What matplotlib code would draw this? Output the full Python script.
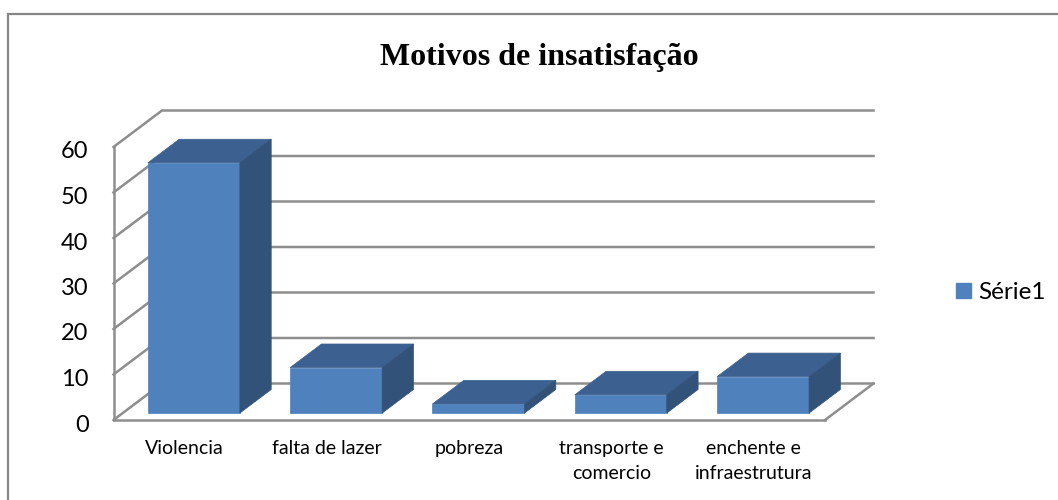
import matplotlib
matplotlib.use("Agg")
import matplotlib.pyplot as plt
from matplotlib.patches import Patch
from matplotlib.transforms import ScaledTranslation

categorias = ["Violencia", "falta de lazer", "pobreza", "transporte e\ncomercio", "enchente e\ninfraestrutura"]
valores = [55, 10, 2, 4, 8]
ticks_y = [0, 10, 20, 30, 40, 50, 60]
serie = "Série1"
titulo = "Motivos de insatisfação"

COR_FRENTE = "#4f81bd"
COR_TOPO = "#3c6190"
COR_LADO = "#325279"
COR_GRADE = "#8e8e8e"

plt.rcParams["font.family"] = ["Lato", "DejaVu Sans"]

W, H = 1058, 500
fig = plt.figure(figsize=(W / 100, H / 100), dpi=100)
# eixo ocupa o plano da frente, o fundo sai por deslocamento
ax = fig.add_axes([113.5 / W, (H - 420) / H, 711.5 / W, 273 / H])
ax.set_xlim(-0.5, 4.5)
ax.set_ylim(0, 60)

# profundidade total em unidades de dados
PROF_X = 48.5 / 142.3
PROF_Y = 36.5 / 4.55
D_BARRA_0 = 0.19
D_BARRA_1 = 0.836
LARGURA = 92 / 142.3


def proj(x, y, d):
    return x + d * PROF_X, y + d * PROF_Y


def poligono(pontos, cor):
    xs = [p[0] for p in pontos]
    ys = [p[1] for p in pontos]
    ax.fill(xs, ys, facecolor=cor, edgecolor=cor, linewidth=0.5, clip_on=False, zorder=3)


# grade das paredes
for t in ticks_y:
    x0, y0 = proj(-0.5, t, 0)
    x1, y1 = proj(-0.5, t, 1)
    x2, y2 = proj(4.5, t, 1)
    ax.plot([x0, x1, x2], [y0, y1, y2], color=COR_GRADE, lw=1.8, clip_on=False, zorder=1,
            solid_joinstyle="miter")
# lado direito do piso
x0, y0 = proj(4.5, 0, 0)
x1, y1 = proj(4.5, 0, 1)
ax.plot([x0, x1], [y0, y1], color=COR_GRADE, lw=1.8, clip_on=False, zorder=1)

# barras
for i, v in enumerate(valores):
    e = i - LARGURA / 2
    d = i + LARGURA / 2
    poligono([proj(e, 0, D_BARRA_0), proj(d, 0, D_BARRA_0), proj(d, v, D_BARRA_0), proj(e, v, D_BARRA_0)], COR_FRENTE)
    poligono([proj(e, v, D_BARRA_0), proj(d, v, D_BARRA_0), proj(d, v, D_BARRA_1), proj(e, v, D_BARRA_1)], COR_TOPO)
    poligono([proj(d, 0, D_BARRA_0), proj(d, 0, D_BARRA_1), proj(d, v, D_BARRA_1), proj(d, v, D_BARRA_0)], COR_LADO)

ax.set_xticks(range(len(categorias)))
ax.set_xticklabels(categorias, fontsize=14, color="black", linespacing=1.55)
ax.set_yticks(ticks_y)
ax.tick_params(axis="y", length=0, pad=18, labelsize=17)
ax.tick_params(axis="x", length=0, pad=14.5)
# numeros do eixo y ficam um pouco abaixo da grade
desce = ScaledTranslation(0, -3 / 100, fig.dpi_scale_trans)
for rotulo in ax.get_yticklabels():
    rotulo.set_transform(rotulo.get_transform() + desce)
for lado in ["top", "right"]:
    ax.spines[lado].set_visible(False)
for lado in ["left", "bottom"]:
    ax.spines[lado].set_color(COR_GRADE)
    ax.spines[lado].set_linewidth(1.8)
ax.patch.set_alpha(0)

fig.text(539.5 / W, 1 - 57 / H, titulo, family="Liberation Serif", fontweight="bold", fontsize=23,
         ha="center", va="center")

fig.legend(handles=[Patch(facecolor=COR_FRENTE, edgecolor=COR_FRENTE, label=serie)],
           loc="center left", bbox_to_anchor=(956 / W, 1 - 292.5 / H), frameon=False, fontsize=17.5,
           handlelength=0.6, handleheight=0.6, handletextpad=0.3, borderpad=0, borderaxespad=0)

# moldura externa
fig.add_artist(plt.Line2D([8 / W, 8 / W, 1], [0, 1 - 14 / H, 1 - 14 / H], transform=fig.transFigure,
                          color="#868686", lw=1.6, solid_joinstyle="miter"))

fig.savefig("out.png", dpi=100)
